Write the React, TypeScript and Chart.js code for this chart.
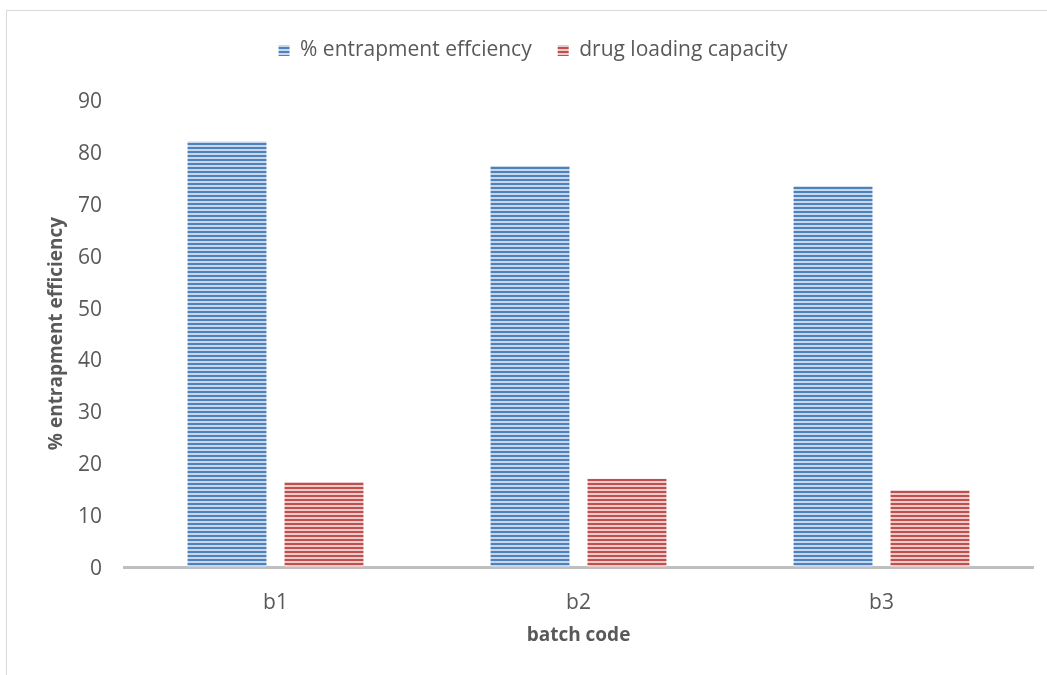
import React, { useEffect, useRef } from "react";
import { Chart, registerables } from "chart.js";

Chart.register(...registerables);

const categories = ["b1", "b2", "b3"];
const entrapment = [82, 77.3, 73.4];
const drugLoading = [16.4, 17.0, 14.8];
const yTicks = [0, 10, 20, 30, 40, 50, 60, 70, 80, 90];

const FONT = "'Open Sans', sans-serif";
const TEXT = "#595959";

function stripe(dark: string, light: string): CanvasPattern | string {
  const c = document.createElement("canvas");
  c.width = 4;
  c.height = 4;
  const g = c.getContext("2d");
  if (!g) return dark;
  g.fillStyle = light;
  g.fillRect(0, 0, 4, 4);
  g.fillStyle = dark;
  g.fillRect(0, 0, 4, 2);
  const p = g.createPattern(c, "repeat");
  return p || dark;
}

export default function App() {
  const ref = useRef<HTMLCanvasElement | null>(null);
  useEffect(() => {
    if (!ref.current) return;
    const blue = stripe("#4F81BD", "#C6D7EB");
    const red = stripe("#C0504D", "#EDCBCA");
    const legendPatch = {
      id: "legendPatch",
      beforeInit(chart: any) {
        const lg = chart.legend;
        if (lg && !lg.__patched) {
          const fit = lg.fit;
          lg.fit = function () {
            fit.call(this);
            this.height += 29;
          };
          lg.__patched = true;
        }
      },
      afterLayout(chart: any) {
        const lg = chart.legend;
        if (lg) {
          lg.left += 13;
          lg.right += 13;
        }
      },
    };
    const chart = new Chart(ref.current, {
      type: "bar",
      data: {
        labels: categories,
        datasets: [
          {
            label: "% entrapment effciency",
            data: entrapment,
            backgroundColor: blue as any,
            borderWidth: 0,
            barPercentage: 0.814,
            categoryPercentage: 0.64,
          },
          {
            label: "drug loading capacity",
            data: drugLoading,
            backgroundColor: red as any,
            borderWidth: 0,
            barPercentage: 0.814,
            categoryPercentage: 0.64,
          },
        ],
      },
      options: {
        responsive: false,
        animation: false,
        layout: { padding: { top: 3, left: 0, right: 14, bottom: 0 } },
        plugins: {
          tooltip: { enabled: false },
          legend: {
            position: "top",
            labels: {
              color: TEXT,
              font: { family: FONT, size: 21 },
              boxWidth: 11,
              boxHeight: 11,
              padding: 26,
            },
          },
        },
        scales: {
          x: {
            grid: { display: false, drawTicks: false },
            border: { display: true, color: "#BFBFBF", width: 3 },
            ticks: { color: TEXT, font: { family: FONT, size: 21 }, padding: 23 },
            title: {
              display: true,
              text: "batch code",
              color: TEXT,
              font: { family: FONT, size: 19, weight: "bold" },
              padding: { top: 0, bottom: 28 },
            },
            afterFit(scale: any) {
              scale.height = 108;
            },
          },
          y: {
            min: 0,
            max: 90,
            grid: { display: false, drawTicks: false },
            border: { display: false },
            afterBuildTicks(scale: any) {
              scale.ticks = yTicks.map((v) => ({ value: v }));
            },
            ticks: { color: TEXT, font: { family: FONT, size: 21 }, padding: 22, labelOffset: 2 },
            title: {
              display: true,
              text: "% entrapment efficiency",
              color: TEXT,
              font: { family: FONT, size: 19, weight: "bold" },
              padding: { top: 38, bottom: 0 },
            },
            afterFit(scale: any) {
              scale.width = 117;
            },
          },
        },
      },
      plugins: [legendPatch],
    });
    return () => chart.destroy();
  }, []);
  return (
    <div
      style={{
        position: "absolute",
        left: 6,
        top: 10,
        width: 1060,
        height: 700,
        border: "1px solid #D9D9D9",
        background: "#fff",
      }}
    >
      <canvas ref={ref} width={1040} height={664} style={{ display: "block" }} />
    </div>
  );
}
